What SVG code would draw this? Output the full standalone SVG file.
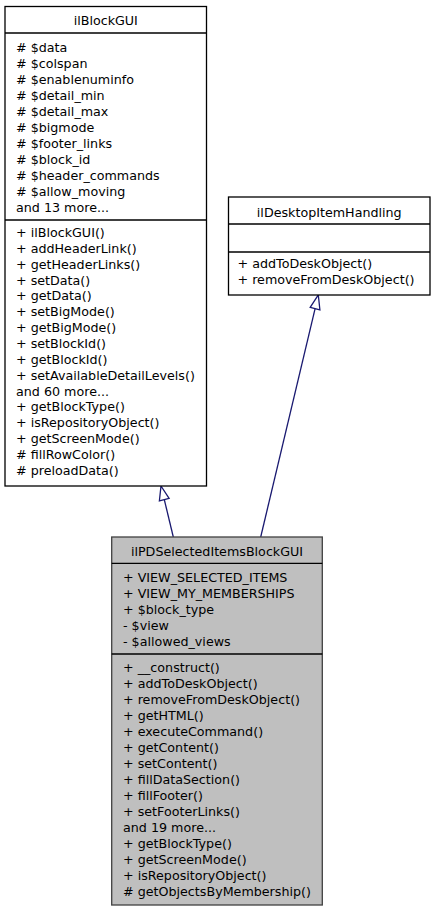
<svg xmlns="http://www.w3.org/2000/svg" width="435" height="912" viewBox="0 0 435 912">
<style>
text{font-family:"DejaVu Sans","Liberation Sans",sans-serif;font-size:12.7px;fill:#000}
.t{text-anchor:middle}
.box{fill:#fff;stroke:#000;stroke-width:1.3}
.focus{fill:#bfbfbf;stroke:#404040;stroke-width:1.3}
.div{stroke:#000;stroke-width:1.3}
.edge{fill:none;stroke:#191970;stroke-width:1.3}
.head{fill:#fff;stroke:#191970;stroke-width:1.3}
</style>
<rect width="435" height="912" fill="#fff"/>
<g id="connectors">
<line class="edge" x1="173.3" y1="537" x2="164.3" y2="499.6"/>
<polygon class="head" points="161,486 169.1,498.4 159.4,500.8"/>
<line class="edge" x1="260.7" y1="537" x2="315.1" y2="308.6"/>
<polygon class="head" points="318.3,295 319.9,309.8 310.2,307.4"/>
</g>
<g id="ilBlockGUI">
<rect class="box" x="5" y="6.5" width="201.5" height="479.5"/>
<line class="div" x1="5" y1="33" x2="206.5" y2="33"/>
<line class="div" x1="5" y1="220" x2="206.5" y2="220"/>
<text class="t" x="105.75" y="24.5">ilBlockGUI</text>
<text x="16" y="51.5"># $data</text>
<text x="16" y="67.5"># $colspan</text>
<text x="16" y="83.5"># $enablenuminfo</text>
<text x="16" y="99.5"># $detail_min</text>
<text x="16" y="115.5"># $detail_max</text>
<text x="16" y="131.5"># $bigmode</text>
<text x="16" y="147.5"># $footer_links</text>
<text x="16" y="163.5"># $block_id</text>
<text x="16" y="179.5"># $header_commands</text>
<text x="16" y="195.5"># $allow_moving</text>
<text x="16" y="211.5">and 13 more...</text>
<text x="16" y="237">+ ilBlockGUI()</text>
<text x="16" y="252.85">+ addHeaderLink()</text>
<text x="16" y="268.7">+ getHeaderLinks()</text>
<text x="16" y="284.55">+ setData()</text>
<text x="16" y="300.4">+ getData()</text>
<text x="16" y="316.25">+ setBigMode()</text>
<text x="16" y="332.1">+ getBigMode()</text>
<text x="16" y="347.95">+ setBlockId()</text>
<text x="16" y="363.8">+ getBlockId()</text>
<text x="16" y="379.65">+ setAvailableDetailLevels()</text>
<text x="16" y="395.5">and 60 more...</text>
<text x="16" y="411.35">+ getBlockType()</text>
<text x="16" y="427.2">+ isRepositoryObject()</text>
<text x="16" y="443.05">+ getScreenMode()</text>
<text x="16" y="458.9"># fillRowColor()</text>
<text x="16" y="474.75"># preloadData()</text>
</g>
<g id="ilDesktopItemHandling">
<rect class="box" x="228.5" y="197" width="201.5" height="98"/>
<line class="div" x1="228.5" y1="224" x2="430" y2="224"/>
<line class="div" x1="228.5" y1="252" x2="430" y2="252"/>
<text class="t" x="329.25" y="216.5">ilDesktopItemHandling</text>
<text x="237.5" y="268">+ addToDeskObject()</text>
<text x="237.5" y="284">+ removeFromDeskObject()</text>
</g>
<g id="ilPDSelectedItemsBlockGUI">
<rect class="focus" x="111.7" y="537" width="210.6" height="368"/>
<line class="div" x1="111.7" y1="563.3" x2="322.3" y2="563.3"/>
<line class="div" x1="111.7" y1="654" x2="322.3" y2="654"/>
<text class="t" x="217" y="555.5">ilPDSelectedItemsBlockGUI</text>
<text x="123" y="581.5">+ VIEW_SELECTED_ITEMS</text>
<text x="123" y="597.5">+ VIEW_MY_MEMBERSHIPS</text>
<text x="123" y="613.5">+ $block_type</text>
<text x="123" y="629.5">- $view</text>
<text x="123" y="645.5">- $allowed_views</text>
<text x="123" y="671.5">+ __construct()</text>
<text x="123" y="687.57">+ addToDeskObject()</text>
<text x="123" y="703.64">+ removeFromDeskObject()</text>
<text x="123" y="719.71">+ getHTML()</text>
<text x="123" y="735.78">+ executeCommand()</text>
<text x="123" y="751.85">+ getContent()</text>
<text x="123" y="767.92">+ setContent()</text>
<text x="123" y="783.99">+ fillDataSection()</text>
<text x="123" y="800.06">+ fillFooter()</text>
<text x="123" y="816.13">+ setFooterLinks()</text>
<text x="123" y="832.2">and 19 more...</text>
<text x="123" y="848.27">+ getBlockType()</text>
<text x="123" y="864.34">+ getScreenMode()</text>
<text x="123" y="880.41">+ isRepositoryObject()</text>
<text x="123" y="896.48"># getObjectsByMembership()</text>
</g>
</svg>
